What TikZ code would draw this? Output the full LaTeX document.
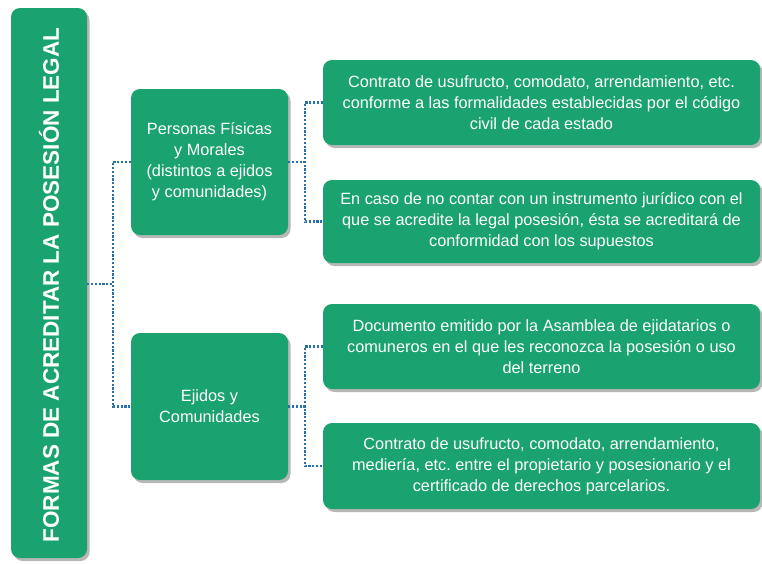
\documentclass[tikz,border=0pt]{standalone}
\usepackage{fontspec}
\setmainfont{Liberation Sans}
\frenchspacing
\usetikzlibrary{shadows}
\definecolor{boxgreen}{RGB}{26,163,110}
\definecolor{dotblue}{RGB}{40,112,170}
\begin{document}
\begin{tikzpicture}[x=1pt,y=-1pt,
  gbox/.style={draw=none,fill=boxgreen,rounded corners=9pt,text=white,align=center,
    inner sep=0pt,
    drop shadow={shadow xshift=2.5pt,shadow yshift=-3pt,opacity=0.4,fill=black!70},
    font=\fontsize{16.3}{21}\selectfont},
  conn/.style={draw=dotblue,line width=2.3pt,dash pattern=on 2.2pt off 1.6pt}]
\useasboundingbox (0,0) rectangle (762,563);
\node[gbox,minimum width=76pt,minimum height=550pt] (main) at (49,283) {};
\node[rotate=90,text=white,font=\bfseries\fontsize{22.5}{24}\selectfont] (title) at (49,285) {FORMAS DE ACREDITAR LA POSESIÓN LEGAL};
\node[gbox,minimum width=157pt,minimum height=146pt] (p) at (209.5,162) {Personas Físicas\\y Morales\\(distintos a ejidos\\y comunidades)};
\node[gbox,minimum width=157pt,minimum height=147pt] (e) at (209.5,406.5) {Ejidos y\\Comunidades};
\node[gbox,minimum width=437pt,minimum height=85pt] (r1) at (541.5,102.5) {Contrato de usufructo, comodato, arrendamiento, etc.\\conforme a las formalidades establecidas por el código\\civil de cada estado};
\node[gbox,minimum width=437pt,minimum height=83pt] (r2) at (541.5,221.5) {En caso de no contar con un instrumento jurídico con el\\que se acredite la legal posesión, ésta se acreditará de\\conformidad con los supuestos};
\node[gbox,minimum width=437pt,minimum height=85pt] (r3) at (541.5,346.5) {Documento emitido por la Asamblea de ejidatarios o\\comuneros en el que les reconozca la posesión o uso\\del terreno};
\node[gbox,minimum width=437pt,minimum height=86pt] (r4) at (541.5,466) {Contrato de usufructo, comodato, arrendamiento,\\mediería, etc. entre el propietario y posesionario y el\\certificado de derechos parcelarios.};
\coordinate (j0) at (113,284);
\coordinate (j1) at (305,162);
\coordinate (j2) at (305,406.5);
\draw[conn] (main.east |- j0) -- (j0);
\draw[conn] (p.west) -| (j0) |- (e.west);
\draw[conn] (p.east) -- (j1);
\draw[conn] (r1.west) -| (j1) |- (r2.west);
\draw[conn] (e.east) -- (j2);
\draw[conn] (r3.west) -| (j2) |- (r4.west);
\end{tikzpicture}
\end{document}
